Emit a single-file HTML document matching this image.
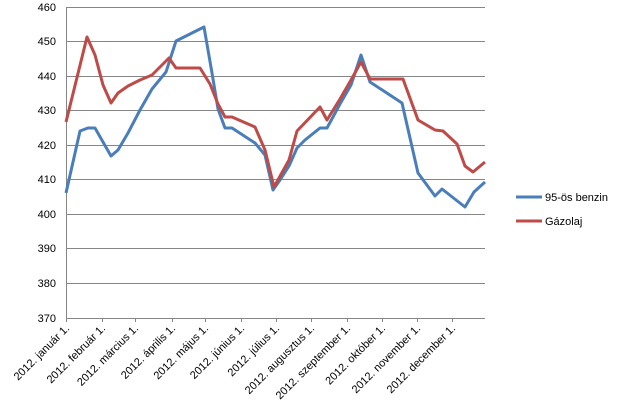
<!DOCTYPE html>
<html><head><meta charset="utf-8"><style>
body{margin:0;background:#fff}
svg{display:block}
text{font-family:"Liberation Sans",sans-serif;font-size:11px;fill:#000}
</style></head><body>
<svg width="624" height="416" xmlns="http://www.w3.org/2000/svg">
<g stroke="#868686" stroke-width="1">
<line x1="66" y1="7.5" x2="485" y2="7.5"/>
<line x1="66" y1="41.5" x2="485" y2="41.5"/>
<line x1="66" y1="76.5" x2="485" y2="76.5"/>
<line x1="66" y1="110.5" x2="485" y2="110.5"/>
<line x1="66" y1="145.5" x2="485" y2="145.5"/>
<line x1="66" y1="179.5" x2="485" y2="179.5"/>
<line x1="66" y1="214.5" x2="485" y2="214.5"/>
<line x1="66" y1="248.5" x2="485" y2="248.5"/>
<line x1="66" y1="283.5" x2="485" y2="283.5"/>
<line x1="66" y1="318.5" x2="485" y2="318.5"/>
<line x1="66.5" y1="7" x2="66.5" y2="322"/>
<line x1="102.5" y1="318" x2="102.5" y2="322"/>
<line x1="135.5" y1="318" x2="135.5" y2="322"/>
<line x1="172.5" y1="318" x2="172.5" y2="322"/>
<line x1="205.5" y1="318" x2="205.5" y2="322"/>
<line x1="241.5" y1="318" x2="241.5" y2="322"/>
<line x1="276.5" y1="318" x2="276.5" y2="322"/>
<line x1="311.5" y1="318" x2="311.5" y2="322"/>
<line x1="347.5" y1="318" x2="347.5" y2="322"/>
<line x1="382.5" y1="318" x2="382.5" y2="322"/>
<line x1="417.5" y1="318" x2="417.5" y2="322"/>
<line x1="452.5" y1="318" x2="452.5" y2="322"/>
</g>
<g text-anchor="end">
<text x="56" y="11">460</text><text x="56" y="45">450</text><text x="56" y="80">440</text>
<text x="56" y="114">430</text><text x="56" y="149">420</text><text x="56" y="183">410</text>
<text x="56" y="218">400</text><text x="56" y="252">390</text><text x="56" y="287">380</text>
<text x="56" y="322">370</text>
</g>
<g text-anchor="end">
<text transform="translate(70,329) rotate(-45)">2012. január 1.</text>
<text transform="translate(106,329) rotate(-45)">2012. február 1.</text>
<text transform="translate(139,329) rotate(-45)">2012. március 1.</text>
<text transform="translate(176,329) rotate(-45)">2012. április 1.</text>
<text transform="translate(209,329) rotate(-45)">2012. május 1.</text>
<text transform="translate(245,329) rotate(-45)">2012. június 1.</text>
<text transform="translate(280,329) rotate(-45)">2012. július 1.</text>
<text transform="translate(315,329) rotate(-45)">2012. augusztus 1.</text>
<text transform="translate(351,329) rotate(-45)">2012. szeptember 1.</text>
<text transform="translate(386,329) rotate(-45)">2012. október 1.</text>
<text transform="translate(421,329) rotate(-45)">2012. november 1.</text>
<text transform="translate(456,329) rotate(-45)">2012. december 1.</text>
</g>
<polyline fill="none" stroke="#4a7ebb" stroke-width="3" stroke-linejoin="round" points="66,193 80,131 88,128 95,128 111,156 118,150 128,133 140,110 152,89 166,72 176,41 204,27 212,73 218,109 225,128 232,128 255,143 265,155 273,190 280,180 289,166 297,148 305,140 320,128 327,128 340,104 351,85 361,55 370,82 402,103 418,173 435,196 442,189 465,207 474,192 485,182"/>
<polyline fill="none" stroke="#be4b48" stroke-width="3" stroke-linejoin="round" points="66,122 87,37 95,55 103,85 111,103 118,93 128,86 140,80 152,75 169,58 176,68 200,68 210,84 218,104 225,117 232,117 255,127 265,150 274,187 289,160 297,131 320,107 327,120 340,99 351,80 361,62 370,79 403,79 418,120 435,130 443,131 457,144 465,166 473,172 485,162"/>
<line x1="516" y1="197" x2="542" y2="197" stroke="#4a7ebb" stroke-width="3"/>
<line x1="516" y1="221" x2="542" y2="221" stroke="#be4b48" stroke-width="3"/>
<text x="545" y="201">95-ös benzin</text>
<text x="545" y="225">Gázolaj</text>
</svg>
</body></html>
